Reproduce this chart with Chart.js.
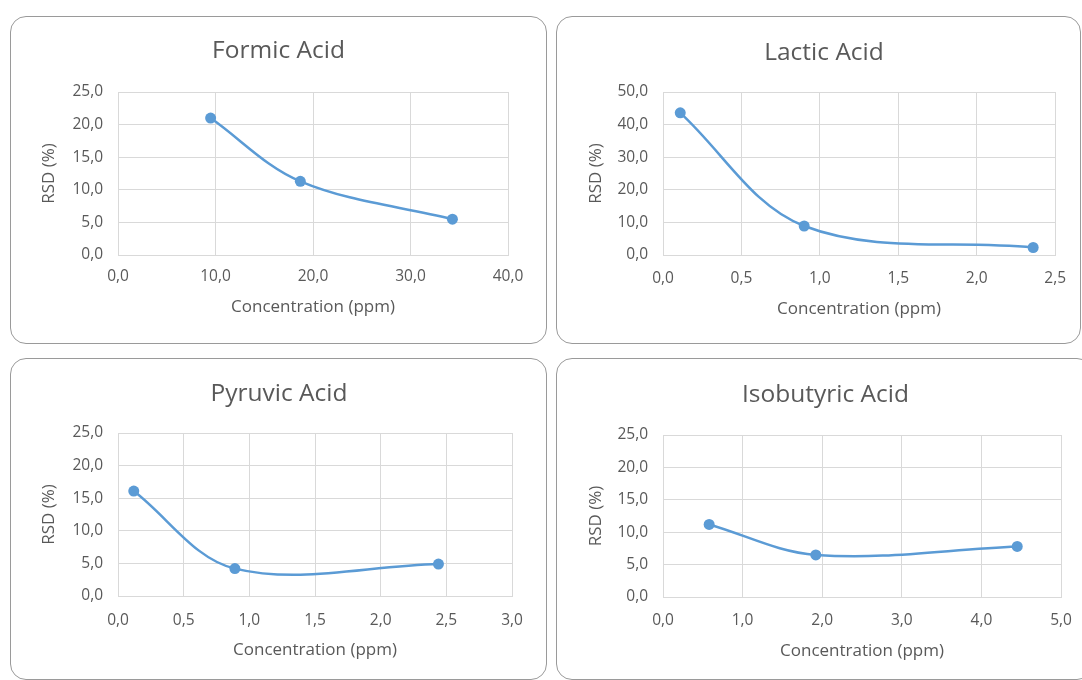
<!DOCTYPE html>
<html>
<head>
<meta charset="utf-8">
<script src="https://cdn.jsdelivr.net/npm/chart.js@4.4.1/dist/chart.umd.min.js"></script>
<style>
  body { margin: 0; width: 1082px; height: 680px; overflow: hidden; background: #fff; position: relative; }
  .panel { position: absolute; border: 1px solid #9a9a9a; border-radius: 16px; background: #fff; overflow: hidden; }
  .panel canvas { position: absolute; left: 0; top: 0; }
</style>
</head>
<body>
<div class="panel" style="left:10px;top:16px;width:535px;height:326px"><canvas id="c1" width="535" height="326"></canvas></div>
<div class="panel" style="left:556px;top:16px;width:523px;height:326px"><canvas id="c2" width="523" height="326"></canvas></div>
<div class="panel" style="left:10px;top:358px;width:535px;height:320px"><canvas id="c3" width="535" height="320"></canvas></div>
<div class="panel" style="left:556px;top:358px;width:535px;height:320px"><canvas id="c4" width="535" height="320"></canvas></div>
<script>
// data (x = concentration ppm, y = RSD %)
const formicX = [9.5, 18.7, 34.3];
const formicY = [21.0, 11.3, 5.5];
const lacticX = [0.11, 0.90, 2.36];
const lacticY = [43.6, 8.9, 2.3];
const pyruvicX = [0.12, 0.89, 2.44];
const pyruvicY = [16.1, 4.2, 4.9];
const isobutyricX = [0.58, 1.92, 4.45];
const isobutyricY = [11.2, 6.5, 7.8];

const titles = ['Formic Acid', 'Lactic Acid', 'Pyruvic Acid', 'Isobutyric Acid'];
const xMaxs = [40, 2.5, 3.0, 5.0];
const xSteps = [10, 0.5, 0.5, 1.0];
const yMaxs = [25, 50, 25, 25];
const ySteps = [5, 10, 5, 5];
const xLabel = 'Concentration (ppm)';
const yLabel = 'RSD (%)';

const blue = '#5b9bd5';
const gray = '#595959';
const gridGray = '#d9d9d9';
const fontName = "'Open Sans', 'Liberation Sans', sans-serif";

function fmt(v) {
    return Number(v).toFixed(1).replace('.', ',');
}

// lay = [padLeft, padRight, padBottom, yWidth, xHeight, titleTop, titleBottom, yTitlePad, xTickPad]
function makeChart(id, n, xs, ys, lay) {
    const pts = xs.map((x, i) => ({ x: x, y: ys[i] }));
    return new Chart(document.getElementById(id), {
        type: 'line',
        data: {
            datasets: [{
                data: pts,
                borderColor: blue,
                backgroundColor: blue,
                borderWidth: 2.5,
                pointRadius: 5.5,
                pointHoverRadius: 5.5,
                pointBorderWidth: 0,
                tension: 0.35,
                fill: false
            }]
        },
        options: {
            responsive: false,
            animation: false,
            devicePixelRatio: 1,
            layout: { padding: { left: lay[0], right: lay[1], top: 0, bottom: lay[2] } },
            plugins: {
                legend: { display: false },
                tooltip: { enabled: false },
                title: {
                    display: true,
                    text: titles[n],
                    color: gray,
                    font: { family: fontName, size: 24.5, weight: 'normal' },
                    padding: { top: lay[5], bottom: lay[6] }
                }
            },
            scales: {
                x: {
                    type: 'linear',
                    min: 0,
                    max: xMaxs[n],
                    grid: { color: gridGray, drawTicks: false },
                    border: { color: gridGray },
                    ticks: {
                        stepSize: xSteps[n],
                        autoSkip: false,
                        maxRotation: 0,
                        padding: lay[8],
                        color: gray,
                        font: { family: fontName, size: 15.5 },
                        callback: fmt
                    },
                    title: {
                        display: true,
                        text: xLabel,
                        color: gray,
                        font: { family: fontName, size: 17 },
                        padding: { top: 0, bottom: 0 }
                    },
                    afterFit: function (s) { s.height = lay[4]; }
                },
                y: {
                    min: 0,
                    max: yMaxs[n],
                    grid: { color: gridGray, drawTicks: false },
                    border: { color: gridGray },
                    ticks: {
                        stepSize: ySteps[n],
                        padding: 15,
                        color: gray,
                        font: { family: fontName, size: 15.5 },
                        callback: fmt
                    },
                    title: {
                        display: true,
                        text: yLabel,
                        color: gray,
                        font: { family: fontName, size: 17 },
                        padding: { top: lay[7], bottom: 0 }
                    },
                    afterFit: function (s) { s.width = lay[3]; }
                }
            }
        }
    });
}

makeChart('c1', 0, formicX, formicY, [38, 38, 25.8, 69, 62.2, 19.3, 26.3, -10.2, 12.5]);
makeChart('c2', 1, lacticX, lacticY, [34, 23, 23.8, 72, 64.2, 21.3, 24.3, -5.2, 14]);
makeChart('c3', 2, pyruvicX, pyruvicY, [35, 34, 18.8, 72, 64.2, 20.3, 24.3, -7.2, 15]);
makeChart('c4', 3, isobutyricX, isobutyricY, [33, 31, 17.8, 73, 64.2, 21.3, 25.3, -4.2, 14]);
</script>
</body>
</html>
